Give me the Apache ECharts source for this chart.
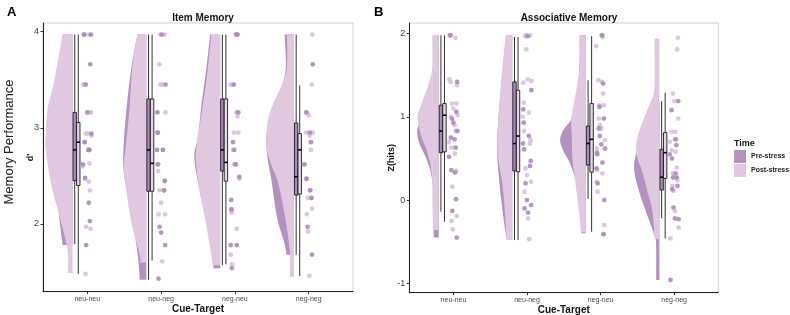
<!DOCTYPE html>
<html><head><meta charset="utf-8">
<script src="https://cdn.jsdelivr.net/npm/echarts@6/dist/echarts.min.js"></script>
<style>html,body{margin:0;padding:0;background:#fff}#c{width:790px;height:315px}</style>
</head><body><div id="c"></div>
<script>
// ---------- data ----------
const CATS = ['neu-neu', 'neu-neg', 'neg-neu', 'neg-neg'];
const GROUPS = ['Pre-stress', 'Post-stress'];
const Y_TICKS_A = [2, 3, 4];
const Y_TICKS_B = [-1, 0, 1, 2];

// half-violin outlines: [value, half-width in category units]
const VIOLIN_A_PRE = [
  [[3.97,.13],[3.64,.2],[3.3,.28],[3.0,.33],[2.77,.34],[2.5,.28],[2.2,.2],[2.07,.18],[1.9,.155],[1.78,.135]],
  [[3.97,.12],[3.64,.2],[3.19,.27],[2.77,.31],[2.5,.30],[2.1,.2],[1.7,.12],[1.5,.095],[1.42,.092]],
  [[3.97,.135],[3.6,.19],[3.26,.25],[2.91,.30],[2.70,.35],[2.39,.29],[2.04,.19],[1.70,.115],[1.54,.09]],
  [[3.97,.126],[3.64,.11],[3.47,.15],[3.29,.24],[3.11,.33],[2.94,.37],[2.77,.37],[2.60,.34],[2.43,.30],[2.07,.23],[1.80,.13],[1.68,.10]]
];
const VIOLIN_A_POST = [
  [[3.97,.135],[3.47,.253],[3.19,.339],[2.91,.362],[2.77,.362],[2.43,.294],[2.07,.172],[1.73,.068],[1.49,.064]],
  [[3.97,.122],[3.64,.19],[3.19,.23],[2.77,.285],[2.61,.31],[2.43,.285],[2.04,.21],[1.70,.098],[1.60,.081]],
  [[3.97,.12],[3.6,.17],[3.26,.23],[2.91,.30],[2.70,.33],[2.39,.29],[2.04,.20],[1.70,.125],[1.57,.10]],
  [[3.97,.095],[3.64,.095],[3.47,.148],[3.29,.26],[3.11,.345],[2.94,.37],[2.77,.37],[2.60,.30],[2.43,.215],[2.07,.12],[1.70,.055],[1.45,.058]]
];
const VIOLIN_B_PRE = [
  [[1.98,.06],[1.5,.06],[1.2,.13],[1.0,.22],[0.85,.29],[0.7,.27],[0.5,.17],[0.3,.10],[0,.07],[-0.45,.068]],
  [[1.98,.08],[1.57,.13],[0.97,.19],[0.57,.205],[0.16,.17],[-0.23,.118],[-0.48,.075]],
  [[1.98,.085],[1.57,.09],[1.17,.14],[0.97,.2],[0.85,.30],[0.73,.35],[0.6,.31],[0.45,.22],[0.3,.16],[0.16,.12],[-0.23,.075],[-0.40,.065]],
  [[1.2,.05],[0.97,.15],[0.77,.25],[0.55,.32],[0.37,.345],[0.13,.285],[-0.1,.20],[-0.28,.126],[-0.45,.06],[-0.55,.045],[-0.96,.045]]
];
const VIOLIN_B_POST = [
  [[1.98,.088],[1.60,.088],[1.40,.136],[1.20,.217],[1.02,.285],[0.90,.272],[0.75,.231],[0.60,.163],[0.40,.109],[0.20,.088],[0,.086],[-0.36,.077]],
  [[1.98,.09],[1.57,.136],[0.97,.19],[0.57,.20],[0.16,.13],[-0.23,.095],[-0.48,.077]],
  [[1.98,.08],[1.57,.09],[1.17,.16],[0.97,.2],[0.73,.19],[0.45,.18],[0.16,.136],[-0.23,.082],[-0.39,.068]],
  [[1.94,.068],[1.36,.068],[1.17,.126],[0.97,.217],[0.77,.295],[0.60,.32],[0.45,.28],[0.37,.245],[0.13,.17],[-0.1,.103],[-0.28,.08],[-0.47,.064]]
];

// boxplot stats: [lower whisker, Q1, median, Q3, upper whisker]
const BOX_A_PRE  = [[1.79,2.45,2.77,3.16,3.97],[1.42,2.34,2.77,3.30,3.97],[1.57,2.55,2.77,3.30,3.97],[1.68,2.30,2.49,3.05,3.97]];
const BOX_A_POST = [[1.48,2.40,2.85,3.055,3.97],[1.62,2.34,2.63,3.30,3.97],[1.58,2.445,2.64,3.30,3.97],[1.46,2.31,2.77,2.94,3.44]];
const BOX_B_PRE  = [[-0.14,0.57,0.83,1.14,1.98],[-0.48,0.35,0.68,1.42,1.96],[0.015,0.42,0.68,0.89,1.44],[-0.22,0.12,0.275,0.61,1.19]];
const BOX_B_POST = [[-0.26,0.58,1.02,1.16,1.98],[-0.48,0.34,0.77,1.32,1.96],[-0.38,0.335,0.73,1.16,1.97],[-0.46,0.26,0.57,0.81,1.29]];

// individual observations
const PTS_A_PRE = [
  [3.97,3.97,3.66,3.45,3.16,2.94,2.85,2.77,2.77,2.62,2.48,2.22,2.03,1.78],
  [3.97,3.45,3.16,2.95,2.77,2.77,2.62,2.45,2.35,1.97,1.91,1.78,1.43],
  [3.97,3.97,3.45,3.16,2.85,2.77,2.62,2.49,2.25,2.15,1.78,1.78,1.54],
  [3.66,3.16,2.95,2.85,2.62,2.47,2.35,2.27,1.97,1.68]
];
const PTS_A_POST = [
  [3.97,3.97,3.97,3.45,3.45,3.16,3.16,2.94,2.94,2.92,2.85,2.77,2.63,2.60,2.47,2.44,2.35,1.97,1.95,1.48],
  [3.97,3.97,3.66,3.45,3.45,3.16,2.95,2.95,2.77,2.62,2.55,2.44,2.35,2.35,2.22,2.10,2.10,1.61],
  [3.97,3.97,3.45,3.45,3.16,3.12,2.95,2.95,2.77,2.62,2.62,2.47,2.15,2.12,1.95,1.68,1.58],
  [3.97,3.45,3.16,3.13,2.95,2.95,2.92,2.77,2.62,2.47,2.35,2.27,2.27,2.16,2.10,1.92,1.46]
];
const PTS_B_PRE = [
  [1.98,1.42,1.06,0.98,0.93,0.83,0.75,0.73,0.63,0.52,0.36,0.33,0.01,-0.13,-0.45],
  [1.97,1.32,1.09,0.93,0.77,0.68,0.61,0.47,0.41,0.20,0.0,-0.06,-0.10,-0.15],
  [1.98,1.40,1.12,0.98,0.86,0.77,0.67,0.62,0.57,0.55,0.45,0.38,0.20,0.0,-0.41],
  [1.19,1.08,0.73,0.66,0.55,0.50,0.32,0.27,0.27,0.17,0.13,-0.09,-0.22,-0.23,-0.96]
];
const PTS_B_POST = [
  [1.98,1.98,1.95,1.45,1.42,1.38,1.16,1.16,1.10,1.02,1.0,0.90,0.83,0.70,0.63,0.56,0.35,0.16,-0.19,-0.25,-0.35],
  [1.98,1.98,1.97,1.81,1.45,1.43,1.41,1.17,1.05,1.0,0.83,0.72,0.68,0.38,0.30,0.22,0.10,-0.22,-0.47],
  [1.98,1.96,1.85,1.44,1.42,1.28,1.14,1.14,0.98,0.90,0.86,0.72,0.62,0.36,0.32,0.22,0.10,-0.30,-0.41],
  [1.95,1.81,1.28,1.19,0.98,0.82,0.82,0.73,0.70,0.60,0.58,0.39,0.32,0.24,0.17,0.11,-0.13,-0.33,-0.46]
];
// horizontal jitter (category units)
const JITTER = [-0.04,0.03,-0.01,0.05,-0.06,0.01,0.04,-0.03,0.06,-0.02,0.02,-0.05,0.0,0.035,-0.045,0.055,-0.015,0.025,-0.035,0.045,-0.055,0.015,-0.025];

// ---------- style ----------
const C_PRE = '#b391c1', C_POST = '#dfc8e0';
const C_PRE_BOX = '#ad88bc', C_POST_BOX = '#e8d6ea';
const FONT = 'Liberation Sans, Arial, sans-serif';
const VIOLIN_GAP = 0.2, BOX_OFF = [-0.17, -0.122], BOX_W = 0.046;

function catmull(pts, n) {
  const out = [];
  for (let i = 0; i < pts.length - 1; i++) {
    const p0 = pts[Math.max(0, i - 1)], p1 = pts[i], p2 = pts[i + 1], p3 = pts[Math.min(pts.length - 1, i + 2)];
    for (let t = 0; t < n; t++) {
      const s = t / n, s2 = s * s, s3 = s2 * s;
      const f = k => 0.5 * ((2 * p1[k]) + (-p0[k] + p2[k]) * s + (2 * p0[k] - 5 * p1[k] + 4 * p2[k] - p3[k]) * s2 + (-p0[k] + 3 * p1[k] - 3 * p2[k] + p3[k]) * s3);
      out.push([f(0), f(1)]);
    }
  }
  out.push(pts[pts.length - 1]);
  return out;
}

function violin(ax, name, profiles, color) {
  return {
    type: 'custom', name, xAxisIndex: ax, yAxisIndex: ax, z: 1,
    itemStyle: { color }, silent: true,
    data: profiles.map((p, i) => [i + 1, p[0][0]]),
    renderItem(params, api) {
      const i = params.dataIndex, prof = profiles[i];
      const xr = i + 1 - VIOLIN_GAP;
      const left = prof.map(([y, w]) => api.coord([xr - w, y]));
      const pts = [api.coord([xr, prof[0][0]])].concat(catmull(left, 8), [api.coord([xr, prof[prof.length - 1][0]])]);
      return { type: 'polygon', shape: { points: pts }, style: { fill: color, stroke: null } };
    }
  };
}

function boxes(ax, stats, g, fill) {
  return {
    type: 'custom', xAxisIndex: ax, yAxisIndex: ax, z: 3, silent: true,
    data: stats.map((s, i) => [i + 1, s[2]]),
    renderItem(params, api) {
      const i = params.dataIndex, s = stats[i];
      const xc = i + 1 + BOX_OFF[g];
      const c = y => api.coord([xc, y]);
      const l = api.coord([xc - BOX_W / 2, s[3]]), r = api.coord([xc + BOX_W / 2, s[1]]);
      const ml = api.coord([xc - BOX_W / 2, s[2]]), mr = api.coord([xc + BOX_W / 2, s[2]]);
      const ln = '#1a1a1a';
      return { type: 'group', children: [
        { type: 'line', shape: { x1: c(s[0])[0], y1: c(s[0])[1], x2: c(s[1])[0], y2: c(s[1])[1] }, style: { stroke: ln, lineWidth: 0.9 } },
        { type: 'line', shape: { x1: c(s[3])[0], y1: c(s[3])[1], x2: c(s[4])[0], y2: c(s[4])[1] }, style: { stroke: ln, lineWidth: 0.9 } },
        { type: 'rect', shape: { x: l[0], y: l[1], width: r[0] - l[0], height: r[1] - l[1] }, style: { fill, stroke: ln, lineWidth: 0.9 } },
        { type: 'line', shape: { x1: ml[0], y1: ml[1], x2: mr[0], y2: mr[1] }, style: { stroke: '#000', lineWidth: 1.6 } }
      ]};
    }
  };
}

function dots(ax, pts, color, shift) {
  const data = [];
  pts.forEach((arr, i) => arr.forEach((y, k) => data.push([i + 1 + JITTER[(k * 3 + i * 5 + shift) % JITTER.length], y])));
  return { type: 'scatter', xAxisIndex: ax, yAxisIndex: ax, z: 4, silent: true, symbolSize: 4.8,
    itemStyle: { color, opacity: 0.85 }, data };
}

function xAxis(gi) {
  return { type: 'value', gridIndex: gi, min: 0.4, max: 4.6, name: 'Cue-Target', nameLocation: 'middle', nameGap: 12.5,
    nameMoveOverlap: false,
    nameTextStyle: { fontFamily: FONT, fontSize: 10, fontWeight: 'bold', color: '#111' },
    axisLine: { show: true, onZero: false, lineStyle: { color: '#222', width: 1 } },
    axisTick: { show: true, length: 2.5, customValues: [1, 2, 3, 4], lineStyle: { color: '#333' } },
    axisLabel: { customValues: [1, 2, 3, 4], formatter: v => CATS[Math.round(v) - 1], fontFamily: FONT, fontSize: 7, color: '#4a4a4a', margin: 4 },
    splitLine: { show: false } };
}
function yAxis(gi, min, max, ticks, name, gap) {
  return { type: 'value', gridIndex: gi, min, max, name, nameLocation: 'middle', nameGap: gap,
    nameMoveOverlap: false,
    nameTextStyle: { fontFamily: FONT, fontSize: 9, fontWeight: 'bold', color: '#111' },
    axisLine: { show: true, onZero: false, lineStyle: { color: '#222', width: 1 } },
    axisTick: { show: true, length: 2.5, customValues: ticks, lineStyle: { color: '#333' } },
    axisLabel: { customValues: ticks, fontFamily: FONT, fontSize: 9, color: '#444', margin: 4 },
    splitLine: { show: false } };
}

const chart = echarts.init(document.getElementById('c'), null, { renderer: 'canvas' });
chart.setOption({
  animation: false,
  backgroundColor: '#fff',
  grid: [
    { left: 43, top: 23, width: 310, height: 268.7, show: true, borderColor: '#cfcfcf', borderWidth: 1, outerBoundsMode: 'none', containLabel: false },
    { left: 409.3, top: 23, width: 309, height: 269.7, show: true, borderColor: '#cfcfcf', borderWidth: 1, outerBoundsMode: 'none', containLabel: false }
  ],
  xAxis: [xAxis(0), xAxis(1)],
  yAxis: [yAxis(0, 1.295, 4.09, Y_TICKS_A, "d'", 8), yAxis(1, -1.113, 2.128, Y_TICKS_B, 'Z(hits)', 13)],
  title: [
    { text: 'Item Memory', left: 198, top: 8, textAlign: 'center', textStyle: { fontFamily: FONT, fontSize: 10, fontWeight: 'bold', color: '#111' } },
    { text: 'Associative Memory', left: 564, top: 8, textAlign: 'center', textStyle: { fontFamily: FONT, fontSize: 10, fontWeight: 'bold', color: '#111' } },
    { text: 'A', left: 2, top: 1, textStyle: { fontFamily: FONT, fontSize: 13, fontWeight: 'bold', color: '#000' } },
    { text: 'B', left: 369, top: 1, textStyle: { fontFamily: FONT, fontSize: 13, fontWeight: 'bold', color: '#000' } }
  ],
  graphic: [
    { type: 'text', x: 9, y: 142, rotation: Math.PI / 2, style: { text: 'Memory Performance', font: '13px ' + FONT, fill: '#222', align: 'center', verticalAlign: 'middle' } },
    { type: 'text', x: 734, y: 144, style: { text: 'Time', font: 'bold 9px ' + FONT, fill: '#111', align: 'left', verticalAlign: 'middle' } }
  ],
  legend: {
    data: [{ name: GROUPS[0], itemStyle: { color: C_PRE } }, { name: GROUPS[1], itemStyle: { color: C_POST } }],
    orient: 'vertical', left: 734, top: 150, padding: 0, icon: 'rect', itemWidth: 12, itemHeight: 13, itemGap: 1,
    selectedMode: false, textStyle: { fontFamily: FONT, fontSize: 7, fontWeight: 'bold', color: '#222' }
  },
  series: [
    violin(0, GROUPS[0], VIOLIN_A_PRE, C_PRE),
    violin(0, GROUPS[1], VIOLIN_A_POST, C_POST),
    violin(1, GROUPS[0], VIOLIN_B_PRE, C_PRE),
    violin(1, GROUPS[1], VIOLIN_B_POST, C_POST),
    boxes(0, BOX_A_PRE, 0, C_PRE_BOX), boxes(0, BOX_A_POST, 1, C_POST_BOX),
    boxes(1, BOX_B_PRE, 0, C_PRE_BOX), boxes(1, BOX_B_POST, 1, C_POST_BOX),
    dots(0, PTS_A_POST, '#d7bedb', 11), dots(0, PTS_A_PRE, '#a985b9', 0),
    dots(1, PTS_B_POST, '#d7bedb', 11), dots(1, PTS_B_PRE, '#a985b9', 0)
  ]
});
</script></body></html>
